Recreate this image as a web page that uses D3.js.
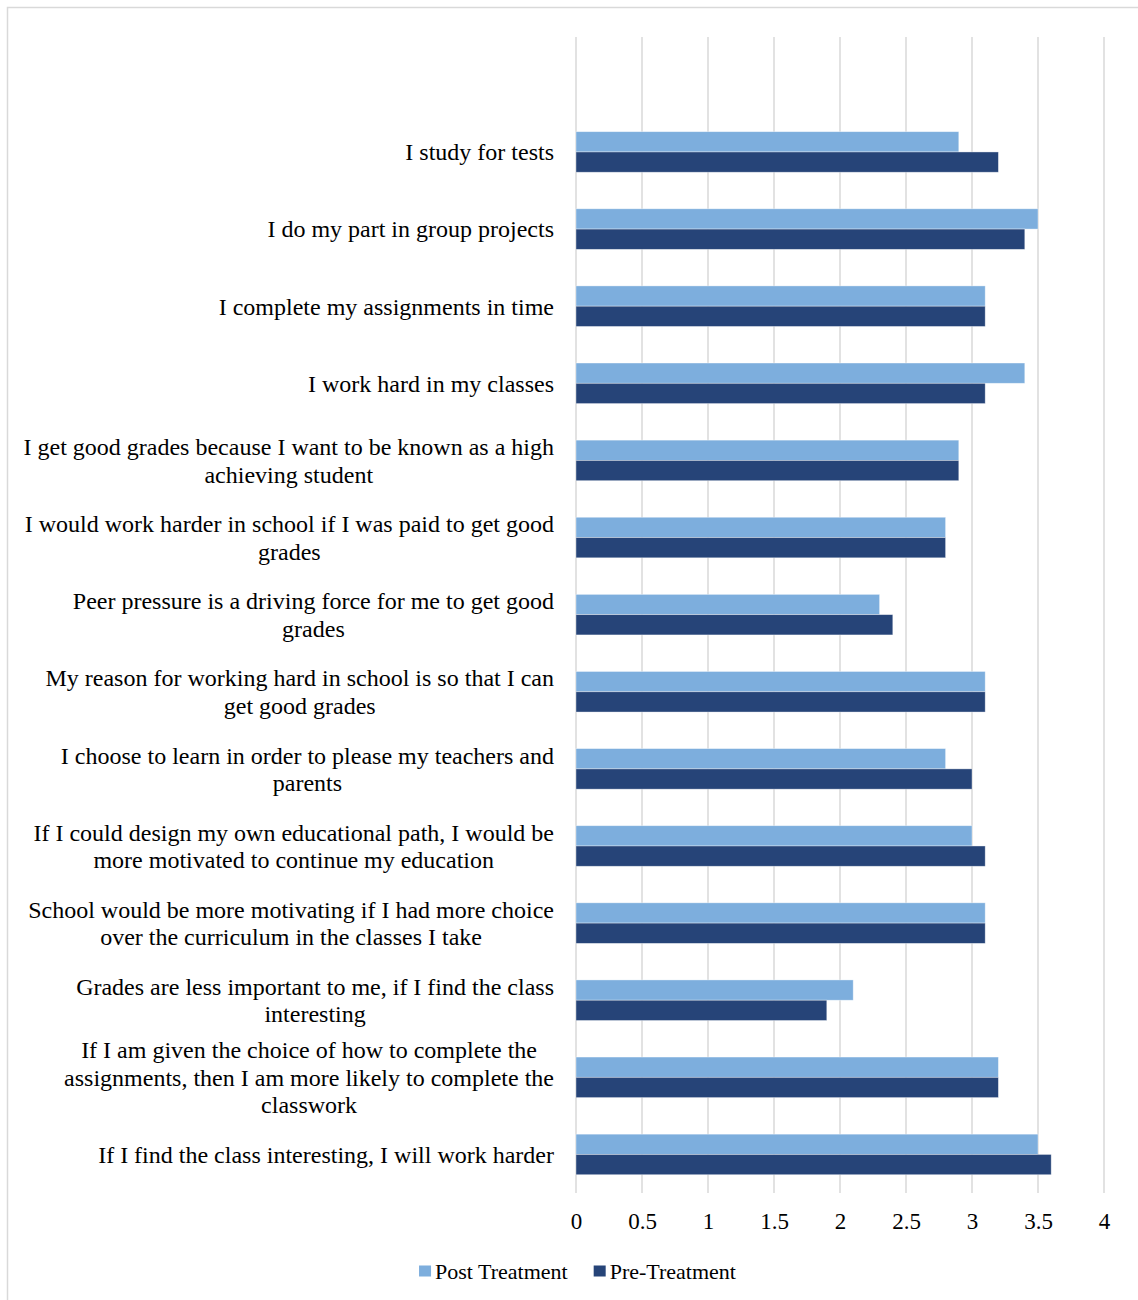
<!DOCTYPE html>
<html><head><meta charset="utf-8">
<script src="https://cdn.jsdelivr.net/npm/d3@7"></script>
<style>body{margin:0;background:#fff}svg{display:block}text{font-family:"Liberation Serif","Times New Roman",serif;fill:#000}</style>
</head><body><svg id="c" width="1138" height="1300"></svg>
<script>
const categories = [
  "I study for tests",
  "I do my part in group projects",
  "I complete my assignments in time",
  "I work hard in my classes",
  "I get good grades because I want to be known as a high\nachieving student",
  "I would work harder in school if I was paid to get good\ngrades",
  "Peer pressure is a driving force for me to get good\ngrades",
  "My reason for working hard in school is so that I can\nget good grades",
  "I choose to learn in order to please my teachers and\nparents",
  "If I could design my own educational path, I would be\nmore motivated to continue my education",
  "School would be more motivating if I had more choice\nover the curriculum in the classes I take",
  "Grades are less important to me, if I find the class\ninteresting",
  "If I am given the choice of how to complete the\nassignments, then I am more likely to complete the\nclasswork",
  "If I find the class interesting, I will work harder"
];
const seriesNames = ["Post Treatment", "Pre-Treatment"];
const postTreatment = [2.9, 3.5, 3.1, 3.4, 2.9, 2.8, 2.3, 3.1, 2.8, 3.0, 3.1, 2.1, 3.2, 3.5];
const preTreatment  = [3.2, 3.4, 3.1, 3.1, 2.9, 2.8, 2.4, 3.1, 3.0, 3.1, 3.1, 1.9, 3.2, 3.6];
const xTicks = [0, 0.5, 1, 1.5, 2, 2.5, 3, 3.5, 4];
const colors = ["#7DAEDD", "#264478"];

const svg = d3.select("#c");
// outer frame
svg.append("rect").attr("x",7.5).attr("y",7.5).attr("width",1140).attr("height",1300)
  .attr("fill","none").attr("stroke","#d9d9d9").attr("stroke-width",1.5);

const x = d3.scaleLinear().domain([0,4]).range([576,1104]);
const gridTop = 37, plotBottom = 1193;
const y = d3.scaleBand().domain(categories).range([113.4, plotBottom]).paddingInner(0.474).paddingOuter(0.237);
const y1 = d3.scaleBand().domain(seriesNames).range([0, y.bandwidth()]);

// gridlines
svg.append("g").selectAll("line").data(xTicks).join("line")
  .attr("x1",d=>x(d)).attr("x2",d=>x(d)).attr("y1",gridTop).attr("y2",plotBottom)
  .attr("stroke","#d9d9d9").attr("stroke-width",1.5);

// tick labels via axis
const ax = svg.append("g").attr("transform",`translate(0,${plotBottom})`)
  .call(d3.axisBottom(x).tickValues(xTicks).tickFormat(d=>String(d)).tickSize(0).tickPadding(20));
ax.select(".domain").remove();
ax.selectAll("text").attr("font-size",23).attr("fill","#000");

// bars
const data = categories.map((c,i)=>({c, vals:[postTreatment[i], preTreatment[i]]}));
const g = svg.append("g").selectAll("g").data(data).join("g")
  .attr("transform",d=>`translate(0,${y(d.c)})`);
g.selectAll("rect").data(d=>d.vals.map((v,j)=>({v, s:seriesNames[j], j}))).join("rect")
  .attr("x",x(0)).attr("y",d=>y1(d.s)).attr("width",d=>x(d.v)-x(0)).attr("height",y1.bandwidth())
  .attr("fill",d=>colors[d.j]).attr("stroke","#ffffff").attr("stroke-opacity",0.5).attr("stroke-width",0.75);

// category labels
const lh = 27.5;
const lab = svg.append("g").selectAll("text").data(categories).join("text")
  .attr("text-anchor","middle").attr("font-size",24);
lab.each(function(c){
  const lines = c.split("\n");
  const t = d3.select(this);
  const cy = y(c) + y.bandwidth()/2;
  lines.forEach((ln,k)=>{
    t.append("tspan").attr("y", cy + (k-(lines.length-1)/2)*lh).attr("dy","0.35em").text(ln);
  });
});
lab.each(function(c){
  const t = d3.select(this);
  let maxW = 0;
  t.selectAll("tspan").each(function(){ maxW = Math.max(maxW, this.getComputedTextLength()); });
  t.selectAll("tspan").attr("x", 554 - maxW/2);
});

// legend
const leg = svg.append("g");
const items = leg.selectAll("g").data(seriesNames).join("g");
items.append("rect").attr("width",12).attr("height",11).attr("y",1265.5).attr("fill",(d,i)=>colors[i]);
items.append("text").attr("x",16).attr("y",1271).attr("dy","0.35em").attr("font-size",22).text(d=>d);
const gap = 26;
const widths = [];
items.each(function(){ widths.push(this.getBBox().width); });
const total = d3.sum(widths) + gap*(widths.length-1);
let start = 577.5 - total/2;
items.attr("transform",(d,i)=>{ const tx = start; start += widths[i] + gap; return `translate(${tx},0)`; });
</script></body></html>
